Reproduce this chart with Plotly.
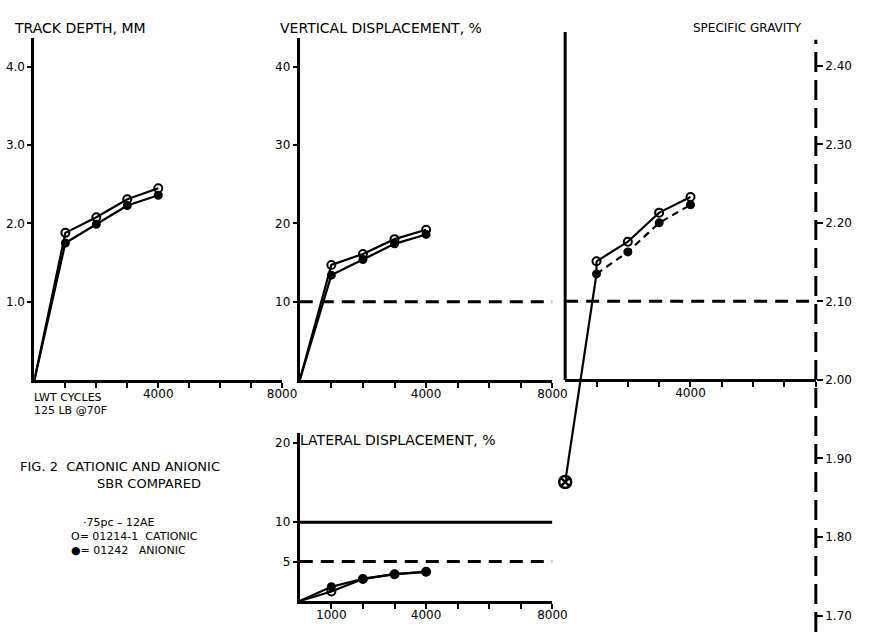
import plotly.graph_objects as go

W, H = 878, 635

# ---------------- data ----------------
cycles = [0, 1000, 2000, 3000, 4000]
x_ticks = [1000, 2000, 3000, 4000, 5000, 6000, 7000, 8000]
x_labels_main = ["", "", "", "4000", "", "", "", "8000"]
x_labels_sg = ["", "", "", "4000", "", "", "", ""]
x_labels_lat = ["1000", "", "", "4000", "", "", "", "8000"]

track_cationic = [0, 1.88, 2.08, 2.31, 2.45]
track_anionic = [0, 1.75, 1.99, 2.23, 2.36]
track_ticks = [1.0, 2.0, 3.0, 4.0]
track_labels = ["1.0", "2.0", "3.0", "4.0"]

vert_cationic = [0, 14.7, 16.1, 18.0, 19.2]
vert_anionic = [0, 13.4, 15.4, 17.4, 18.6]
vert_ticks = [10, 20, 30, 40]
vert_labels = ["10", "20", "30", "40"]
vert_limit = 10

sg_cationic = [1.87, 2.151, 2.176, 2.213, 2.233]
sg_anionic = [1.87, 2.135, 2.163, 2.200, 2.223]
sg_ticks = [1.70, 1.80, 1.90, 2.00, 2.10, 2.20, 2.30, 2.40]
sg_labels = ["1.70", "1.80", "1.90", "2.00", "2.10", "2.20", "2.30", "2.40"]
sg_limit = 2.10

lat_cationic = [0, 1.2, 2.8, 3.4, 3.7]
lat_anionic = [0, 1.8, 2.8, 3.4, 3.7]
lat_ticks = [5, 10, 20]
lat_labels = ["5", "10", "20"]
lat_limit_solid = 10
lat_limit_dash = 5


def xd(px):
    return px / W


def yd(py):
    return 1 - py / H


FONT = "DejaVu Sans"
BLACK = "black"
DASH = "13px,8px"

fig = go.Figure()


def add_line(xa, ya, xs, ys, dash="solid"):
    fig.add_trace(go.Scatter(x=xs, y=ys, xaxis=xa, yaxis=ya, mode="lines",
                             line=dict(color=BLACK, width=2.2, dash=dash),
                             hoverinfo="skip", cliponaxis=False))


def add_marks(xa, ya, xs, ys, filled):
    fig.add_trace(go.Scatter(
        x=xs, y=ys, xaxis=xa, yaxis=ya, mode="markers",
        marker=dict(symbol="circle" if filled else "circle-open",
                    size=7 if filled else 8, color=BLACK,
                    line=dict(color=BLACK, width=2)),
        cliponaxis=False))


def add_series(xa, ya, xs, ys, filled):
    add_line(xa, ya, xs, ys)
    add_marks(xa, ya, xs[1:], ys[1:], filled)


# panel 1: track depth
add_series("x", "y", cycles, track_cationic, False)
add_series("x", "y", cycles, track_anionic, True)
# panel 2: vertical displacement
add_series("x2", "y2", cycles, vert_cationic, False)
add_series("x2", "y2", cycles, vert_anionic, True)
# panel 3: specific gravity
add_line("x3", "y3", cycles[:2], sg_anionic[:2])
add_line("x3", "y3", [cycles[1], cycles[1]], [sg_anionic[1], sg_cationic[1]])
add_line("x3", "y3", cycles[1:], sg_cationic[1:])
add_line("x3", "y3", cycles[1:], sg_anionic[1:], dash="7px,5px")
add_marks("x3", "y3", cycles[1:], sg_cationic[1:], False)
add_marks("x3", "y3", cycles[1:], sg_anionic[1:], True)
fig.add_trace(go.Scatter(x=[cycles[0]], y=[sg_cationic[0]], xaxis="x3", yaxis="y3",
                         mode="markers", cliponaxis=False,
                         marker=dict(symbol="circle-x-open", size=12, color=BLACK,
                                     line=dict(color=BLACK, width=2.5))))
# panel 4: lateral displacement
add_series("x4", "y4", cycles, lat_cationic, False)
add_series("x4", "y4", cycles, lat_anionic, True)

tickfont = dict(family=FONT, size=12, color=BLACK)

xcommon = dict(range=[0, 8000], tickvals=x_ticks, ticks="outside", ticklen=5,
               tickwidth=2, tickcolor=BLACK, showline=True, linewidth=3,
               linecolor=BLACK, showgrid=False, zeroline=False,
               tickfont=tickfont, fixedrange=True, ticklabelstandoff=-4)
ycommon = dict(ticks="outside", ticklen=4, tickwidth=2, tickcolor=BLACK,
               showline=True, linewidth=3, linecolor=BLACK, showgrid=False,
               zeroline=False, tickfont=tickfont, fixedrange=True)

top_y = yd(38)
fig.update_layout(
    width=W, height=H, margin=dict(l=0, r=0, t=0, b=0),
    paper_bgcolor="white", plot_bgcolor="white", showlegend=False,
    xaxis=dict(domain=[xd(35), xd(287)], anchor="y", ticktext=x_labels_main, **xcommon),
    yaxis=dict(domain=[yd(380), top_y], anchor="x", range=[0, 4.37],
               tickvals=track_ticks, ticktext=track_labels, **ycommon),
    xaxis2=dict(domain=[xd(305), xd(562)], anchor="y2", ticktext=x_labels_main, **xcommon),
    yaxis2=dict(domain=[yd(380), top_y], anchor="x2", range=[0, 43.7],
                tickvals=vert_ticks, ticktext=vert_labels, **ycommon),
    xaxis3=dict(domain=[xd(575), xd(830)], anchor="free", position=yd(380),
                ticktext=x_labels_sg, **xcommon),
    yaxis3=dict(domain=[yd(632), yd(32)], anchor="x3", side="right",
                range=[1.679, 2.443], tickvals=sg_ticks, ticktext=sg_labels,
                ticks="outside", ticklen=6, tickwidth=2, tickcolor=BLACK,
                showline=False, showgrid=False, zeroline=False,
                tickfont=tickfont, fixedrange=True),
    xaxis4=dict(domain=[xd(305), xd(562)], anchor="y4", ticktext=x_labels_lat, **xcommon),
    yaxis4=dict(domain=[yd(601), yd(433)], anchor="x4", range=[0, 21.3],
                tickvals=lat_ticks, ticktext=lat_labels, **ycommon),
)

shapes = [
    dict(type="line", xref="x2", yref="y2", x0=0, x1=8000, y0=vert_limit, y1=vert_limit,
         line=dict(color=BLACK, width=3, dash=DASH)),
    dict(type="line", xref="x3", yref="y3", x0=0, x1=8000, y0=sg_limit, y1=sg_limit,
         line=dict(color=BLACK, width=3, dash=DASH)),
    dict(type="line", xref="paper", yref="y3", x0=xd(575), x1=xd(575), y0=2.00, y1=2.443,
         line=dict(color=BLACK, width=3)),
    dict(type="line", xref="paper", yref="y3", x0=xd(830), x1=xd(830), y0=1.679, y1=2.433,
         line=dict(color=BLACK, width=3, dash="20px,8px")),
    dict(type="line", xref="x4", yref="y4", x0=0, x1=8000, y0=lat_limit_solid, y1=lat_limit_solid,
         line=dict(color=BLACK, width=3)),
    dict(type="line", xref="x4", yref="y4", x0=0, x1=8000, y0=lat_limit_dash, y1=lat_limit_dash,
         line=dict(color=BLACK, width=3, dash=DASH)),
]
fig.update_layout(shapes=shapes)


def note(text, px, py, size=14, anchor="left"):
    fig.add_annotation(x=xd(px), y=yd(py), xref="paper", yref="paper", text=text,
                       showarrow=False, xanchor=anchor, yanchor="middle",
                       font=dict(family=FONT, size=size, color=BLACK))


note("TRACK DEPTH, MM", 12, 28, 14)
note("VERTICAL DISPLACEMENT, %", 283, 28, 14)
note("SPECIFIC GRAVITY", 703, 28, 12)
note("LATERAL DISPLACEMENT, %", 303, 440, 14)
note("LWT CYCLES", 33, 397, 11)
note("125 LB @70F", 33, 410, 11)
note("FIG. 2  CATIONIC AND ANIONIC", 18, 466, 13)
note("SBR COMPARED", 97, 483, 13)
note("·75pc – 12AE", 82, 522, 11)
note("O= 01214-1  CATIONIC", 70, 536, 11)
note("●= 01242   ANIONIC", 70, 550, 11)

post = ("document.body.style.margin='0';document.body.style.padding='0';"
        "document.body.style.overflow='hidden';"
        "var gd=document.getElementById('{plot_id}');"
        "Plotly.relayout(gd,{width:%d,height:%d});" % (W, H))
fig.write_html("out.html", post_script=post, config={"displayModeBar": False})
